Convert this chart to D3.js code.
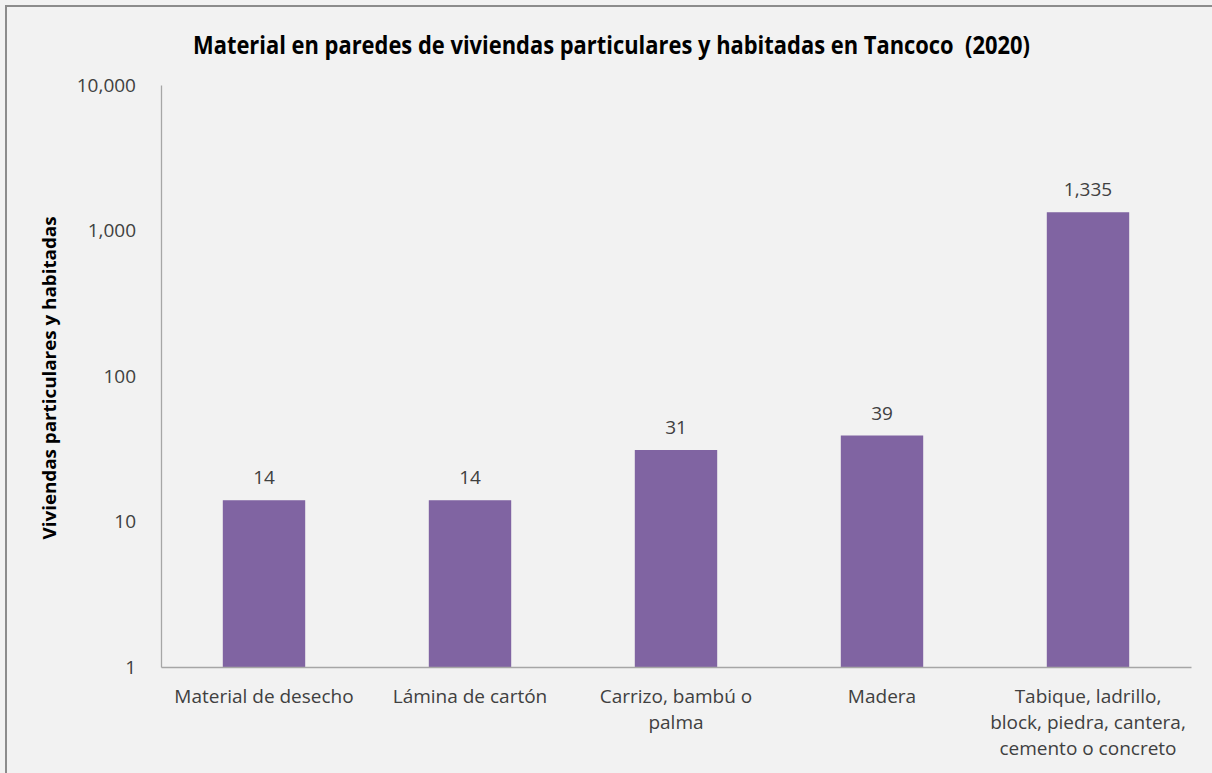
<!DOCTYPE html>
<html>
<head>
<meta charset="utf-8">
<script src="https://cdn.jsdelivr.net/npm/d3@7"></script>
<style>
  html, body { margin: 0; padding: 0; background: #f2f2f2; }
  svg { display: block; }
</style>
</head>
<body>
<svg id="chart" width="1212" height="773"></svg>
<script>
// Wall materials of occupied private dwellings, Tancoco (2020)
const categories = [
  "Material de desecho",
  "Lámina de cartón",
  "Carrizo, bambú o palma",
  "Madera",
  "Tabique, ladrillo, block, piedra, cantera, cemento o concreto"
];
const categoryLines = [
  ["Material de desecho"],
  ["Lámina de cartón"],
  ["Carrizo, bambú o", "palma"],
  ["Madera"],
  ["Tabique, ladrillo,", "block, piedra, cantera,", "cemento o concreto"]
];
const values = [14, 14, 31, 39, 1335];
const yTicks = [1, 10, 100, 1000, 10000];
const titleText = "Material en paredes de viviendas particulares y habitadas en Tancoco  (2020)";
const yTitle = "Viviendas particulares y habitadas";

const svg = d3.select("#chart");
const W = 1212, H = 773;
const plot = { left: 161, right: 1191, top: 85, bottom: 667 };
const labelFont = "'Open Sans', 'Noto Sans', sans-serif";
const boldFont = "'Open Sans', 'Noto Sans', sans-serif";
const textColor = "#404040";
const labelSize = 19;

// chart background and frame (top/left edges visible)
svg.append("rect").attr("x", 0).attr("y", 0).attr("width", W).attr("height", H).attr("fill", "#f2f2f2");
svg.append("rect").attr("x", 6).attr("y", 6).attr("width", W + 20).attr("height", H + 20)
  .attr("fill", "none").attr("stroke", "#8c8c8c").attr("stroke-width", 2);

const x = d3.scaleBand().domain(categories)
  .range([plot.left, plot.right]).paddingInner(0.6).paddingOuter(0.3);
const y = d3.scaleLog().domain([1, 10000]).range([plot.bottom, plot.top]);

// title (condensed bold)
svg.append("text")
  .attr("x", 611.5).attr("y", 54)
  .attr("text-anchor", "middle")
  .attr("font-family", boldFont)
  .attr("font-weight", "bold")
  .attr("font-size", 25)
  .attr("fill", "#000")
  .attr("textLength", 837)
  .attr("lengthAdjust", "spacingAndGlyphs")
  .attr("xml:space", "preserve")
  .text(titleText);

// y axis
const yAxis = d3.axisLeft(y).tickValues(yTicks).tickSize(0).tickPadding(25)
  .tickFormat(d3.format(","));
const gy = svg.append("g").attr("transform", `translate(${plot.left},0)`).call(yAxis);
gy.select(".domain").attr("stroke", "#a6a6a6").attr("stroke-width", 1.3);
gy.selectAll("text").attr("font-family", labelFont).attr("font-size", labelSize).attr("fill", textColor);

// y title
svg.append("text")
  .attr("transform", `translate(56,${(plot.top + plot.bottom) / 2 + 2}) rotate(-90)`)
  .attr("text-anchor", "middle")
  .attr("font-family", boldFont)
  .attr("font-weight", "bold")
  .attr("font-size", 18)
  .attr("fill", "#000")
  .attr("textLength", 323)
  .attr("lengthAdjust", "spacingAndGlyphs")
  .text(yTitle);

// bars
svg.append("g").selectAll("rect")
  .data(values)
  .join("rect")
  .attr("x", (d, i) => x(categories[i]))
  .attr("width", x.bandwidth())
  .attr("y", d => y(d))
  .attr("height", d => y(1) - y(d))
  .attr("fill", "#8064a2");

// value labels
svg.append("g").selectAll("text")
  .data(values)
  .join("text")
  .attr("x", (d, i) => x(categories[i]) + x.bandwidth() / 2)
  .attr("y", d => y(d) - 16)
  .attr("text-anchor", "middle")
  .attr("font-family", labelFont)
  .attr("font-size", labelSize)
  .attr("fill", textColor)
  .text(d => d3.format(",")(d));

// x axis baseline
const xAxis = d3.axisBottom(x).tickSize(0).tickFormat("");
const gx = svg.append("g").attr("transform", `translate(0,${plot.bottom})`).call(xAxis);
gx.select(".domain").attr("stroke", "#a6a6a6").attr("stroke-width", 1.3);

// category labels
const catG = svg.append("g");
categories.forEach((c, i) => {
  const t = catG.append("text")
    .attr("x", x(c) + x.bandwidth() / 2)
    .attr("y", 703)
    .attr("text-anchor", "middle")
    .attr("font-family", labelFont)
    .attr("font-size", labelSize)
    .attr("fill", textColor);
  categoryLines[i].forEach((line, j) => {
    t.append("tspan")
      .attr("x", x(c) + x.bandwidth() / 2)
      .attr("dy", j === 0 ? 0 : 26)
      .text(line);
  });
});
</script>
</body>
</html>
